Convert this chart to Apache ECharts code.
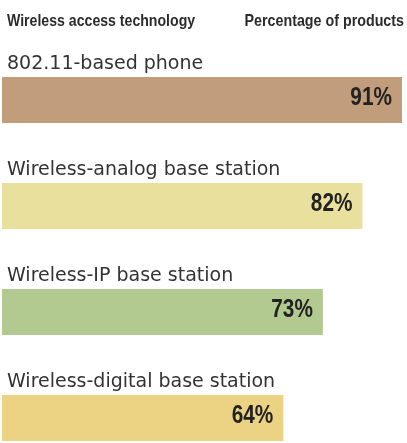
<!DOCTYPE html>
<html>
<head>
<meta charset="utf-8">
<script src="https://cdn.jsdelivr.net/npm/echarts@6/dist/echarts.min.js"></script>
<style>
  html, body { margin: 0; padding: 0; background: #ffffff; }
  #chart { width: 407px; height: 443px; }
</style>
</head>
<body>
<div id="chart"></div>
<script>
const categories = ['802.11-based phone', 'Wireless-analog base station', 'Wireless-IP base station', 'Wireless-digital base station'];
const values = [91, 82, 73, 64];
const barColors = ['#c19d7b', '#e8e09c', '#b2ca8f', '#ecd283'];
const headerLeft = 'Wireless access technology';
const headerRight = 'Percentage of products';

const chart = echarts.init(document.getElementById('chart'), null, { renderer: 'canvas' });

const condFont = 'bold 17px "Liberation Sans", Arial, sans-serif';

const option = {
  animation: false,
  backgroundColor: '#ffffff',
  graphic: [
    {
      type: 'text', x: 7, y: 21, scaleX: 0.83,
      style: { text: headerLeft, font: condFont, fill: '#2b2b2b', textAlign: 'left', textVerticalAlign: 'middle' }
    },
    {
      type: 'text', x: 404, y: 21, scaleX: 0.84,
      style: { text: headerRight, font: condFont, fill: '#2b2b2b', textAlign: 'right', textVerticalAlign: 'middle' }
    }
  ],
  grid: { left: 2, right: 5, top: 100, bottom: 25, containLabel: false },
  xAxis: { type: 'value', min: 0, max: 91, show: false },
  yAxis: { type: 'category', data: categories, inverse: true, show: false, boundaryGap: false },
  series: [
    {
      type: 'bar',
      barWidth: 46,
      data: values.map((v, i) => ({ value: v, itemStyle: { color: barColors[i] } })),
      label: {
        show: true,
        position: [5, -3],
        verticalAlign: 'bottom',
        align: 'left',
        formatter: p => p.name,
        fontFamily: '"DejaVu Sans", sans-serif',
        fontSize: 19,
        color: '#333333'
      },
      silent: true
    },
    {
      type: 'custom',
      data: values.map((v, i) => [v, i]),
      encode: { x: 0, y: 1 },
      silent: true,
      z: 5,
      renderItem: function (params, api) {
        const pt = api.coord([api.value(0), api.value(1)]);
        return {
          type: 'text',
          x: pt[0] - 10,
          y: pt[1] - 2,
          scaleX: 0.8,
          style: {
            text: api.value(0) + '%',
            font: 'bold 26px "Liberation Sans", Arial, sans-serif',
            fill: '#222222',
            textAlign: 'right',
            textVerticalAlign: 'middle'
          }
        };
      }
    }
  ]
};
chart.setOption(option);
</script>
</body>
</html>
